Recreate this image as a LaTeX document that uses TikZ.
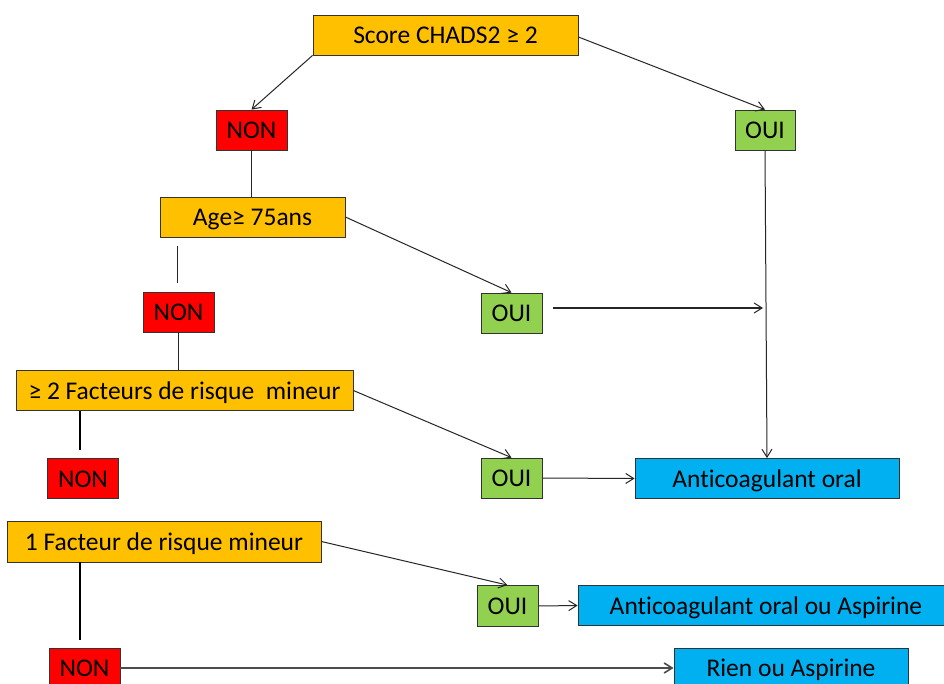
\documentclass[tikz,border=0pt]{standalone}
\usepackage{fontspec}
\setmainfont[Ligatures={NoCommon}]{Carlito}
\usetikzlibrary{arrows.meta}
\definecolor{cOrange}{HTML}{FFC000}
\definecolor{cRed}{HTML}{FF0000}
\definecolor{cGreen}{HTML}{92D050}
\definecolor{cBlue}{HTML}{00B0F0}
\tikzset{
  box/.style={draw=black!80, line width=0.8pt, inner sep=0pt, font=\fontsize{25.5}{28}\selectfont, text=black, text height=17pt, text depth=0pt},
  obox/.style={box, fill=cOrange},
  rbox/.style={box, fill=cRed},
  gbox/.style={box, fill=cGreen},
  bbox/.style={box, fill=cBlue},
  arr/.style={-{Straight Barb[length=8pt,width=10pt]}, line width=1pt, draw=black!85},
  ln/.style={line width=1pt, draw=black!85},
  thk/.style={line width=2.4pt, draw=black}
}
\begin{document}
\begin{tikzpicture}[x=1pt,y=-1pt]
\clip (0,0) rectangle (944,684);
\fill[white] (0,0) rectangle (944,684);
% nodes
\node[obox, minimum width=265pt, minimum height=40pt] (score) at (445.5,35) {Score CHADS2 ≥ 2};
\node[rbox, minimum width=71pt, minimum height=40pt] (non1) at (251.5,130) {NON};
\node[gbox, minimum width=60pt, minimum height=40pt] (oui1) at (765,130) {OUI};
\node[obox, minimum width=185pt, minimum height=40pt] (age) at (252.5,217) {Age≥ 75ans};
\node[rbox, minimum width=71pt, minimum height=40pt] (non2) at (178.5,312) {NON};
\node[gbox, minimum width=61pt, minimum height=40pt] (oui2) at (511.5,313) {OUI};
\node[obox, minimum width=337pt, minimum height=40pt] (f2) at (184.5,390.5) {≥ 2 Facteurs de risque\ \ mineur};
\node[rbox, minimum width=71pt, minimum height=40pt] (non3) at (83,478.5) {NON};
\node[gbox, minimum width=61pt, minimum height=40pt] (oui3) at (511.5,478) {OUI};
\node[bbox, minimum width=264pt, minimum height=40pt] (ac) at (767,478.5) {Anticoagulant oral};
\node[obox, minimum width=314pt, minimum height=41pt] (f1) at (164,541.5) {1 Facteur de risque mineur};
\node[gbox, minimum width=61pt, minimum height=41pt] (oui4) at (507.5,606) {OUI};
\node[bbox, minimum width=376pt, minimum height=40pt] (aca) at (766,605.5) {Anticoagulant oral ou Aspirine};
\node[rbox, minimum width=71pt, minimum height=40pt] (non4) at (84.5,668) {NON};
\node[bbox, minimum width=234pt, minimum height=40pt] (rien) at (791,668) {Rien ou Aspirine};
\coordinate (vj) at (765,308);
% connectors
\draw[arr] (score.south west) -- (non1.north);
\draw[arr] ([yshift=-2pt]score.east) -- (oui1.north);
\draw[ln] (non1.south) -- (non1.south |- age.north);
\draw[arr] (age.east) -- (oui2.north);
\draw[ln] ([xshift=-1.5pt]non2.north) ++(0,-9) -- ++(0,-37);
\draw[ln] (non2.south) -- (non2.south |- f2.north);
\draw[arr] ([xshift=11pt]oui2.east |- vj) -- ([xshift=-2pt]vj);
\draw[arr] (oui1.south) -- (ac.north);
\draw[arr] (f2.east) -- (oui3.north);
\draw[thk] ([xshift=-3pt]non3.north) ++(0,-8) -- ([xshift=-3pt]non3.north |- f2.south);
\draw[arr] (oui3.east) -- (ac.west);
\draw[arr] (f1.east) -- (oui4.north);
\draw[thk] ([xshift=-4.5pt]non4.north) ++(0,-8) -- ([xshift=-4.5pt]non4.north |- f1.south);
\draw[arr] (oui4.east) -- (aca.west);
\draw[arr, line width=1.6pt, draw=black!70] (non4.east) -- (rien.west);
\end{tikzpicture}
\end{document}
